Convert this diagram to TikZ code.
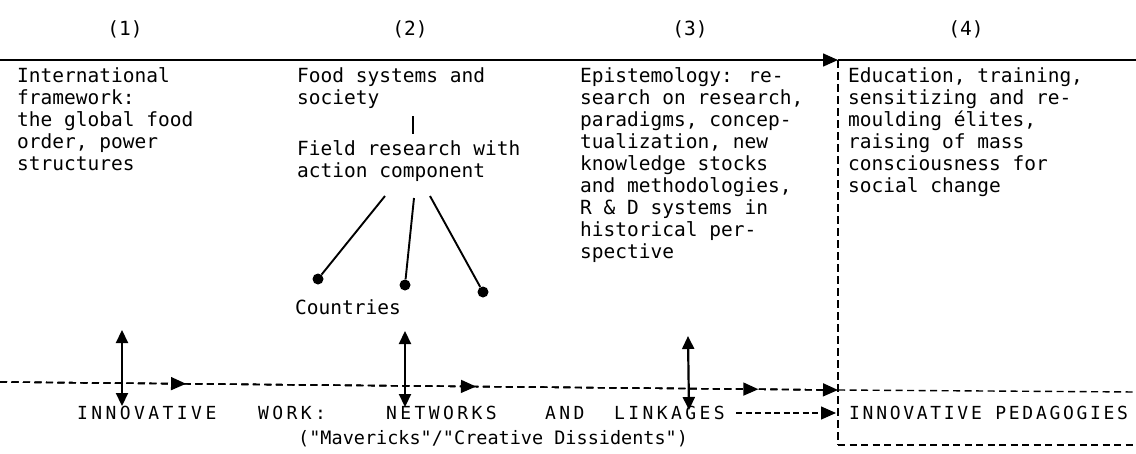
\documentclass[tikz,border=0pt]{standalone}
\usepackage{fontspec}
\newfontfamily\tw{DejaVu Sans Mono}
\newfontfamily\twcaps{DejaVu Sans Mono}[LetterSpace=19]
\newfontfamily\twcapsn{DejaVu Sans Mono}[LetterSpace=15]
\usetikzlibrary{arrows.meta,decorations.markings}

\begin{document}
\begin{tikzpicture}[x=1pt,y=-1pt,
  body/.style={anchor=north west, inner sep=0pt, align=left,
               font=\tw\fontsize{19.5}{22}\selectfont},
  head/.style={anchor=base, inner sep=0pt, font=\tw\fontsize{19.5}{22}\selectfont},
  caps/.style={anchor=base west, inner sep=0pt, font=\twcaps\fontsize{18}{22}\selectfont},
  solidline/.style={line width=1.5pt},
  dashline/.style={line width=1.4pt, dash pattern=on 7pt off 4.5pt},
  tip/.style={-{Triangle[length=15pt,width=13pt]}},
  twoway/.style={line width=2.2pt, {Triangle[length=13pt,width=12pt]}-{Triangle[length=13pt,width=12pt]}},
  stem/.style={line width=1.9pt},
  dot/.style={circle, fill, inner sep=0pt, minimum size=11pt},
  flow/.style={postaction={decorate}, decoration={markings,
      mark=at position #1 with {\arrow{Triangle[length=15pt,width=13pt]}}}}
]
\useasboundingbox (0,0) rectangle (1136,453);

% column numbers
\node[head] (n1) at (125,35) {(1)};
\node[head] (n2) at (410,35) {(2)};
\node[head] (n3) at (690,35) {(3)};
\node[head] (n4) at (966,35) {(4)};

% top rule with the arrow into column (4)
\coordinate (tl) at (0,60);
\coordinate (tm) at (838,60);
\coordinate (tr) at (1136,60);
\draw[solidline, tip] (tl) -- (tm);
\draw[solidline] (tm) -- (tr);

% dashed frame of column (4)
\coordinate (vb) at (838,445);
\coordinate (br) at (1136,445);
\draw[dashline, dash pattern=on 8pt off 4pt] (tm) -- (vb);
\draw[dashline] (vb) -- (br);

% column texts
\node[body] (c1) at (17,66.6) {\strut International\\framework:\\the global food\\order, power\\structures};
\node[body] (c2a) at (297,66.6) {\strut Food systems and\\society};
\node[body] (c2b) at (297,139.6) {\strut Field research with\\action component};
\node[body] (c3) at (580,66.6) {\strut Epistemology: re-\\search on research,\\paradigms, concep-\\tualization, new\\knowledge stocks\\and methodologies,\\R \& D systems in\\historical per-\\spective};
\node[body] (c4) at (848,66.6) {\strut Education, training,\\sensitizing and re-\\moulding élites,\\raising of mass\\consciousness for\\social change};

% link between the two parts of column (2)
\coordinate (b1) at (413,116);
\coordinate (b2) at (413,134);
\draw[stem] (b1) -- (b2);

% field research branching out to the countries
\coordinate (s1) at (385,196);
\coordinate (s2) at (414,198);
\coordinate (s3) at (430,196);
\node[dot] (d1) at (318,279) {};
\node[dot] (d2) at (405,285) {};
\node[dot] (d3) at (483,292) {};
\draw[stem] (s1) -- (d1);
\draw[stem] (s2) -- (d2);
\draw[stem] (s3) -- (d3);
\node[body] (ctry) at (295,298.6) {\strut Countries};

% dashed line of innovative work
\coordinate (m0) at (0,382);
\coordinate (m1) at (838,390);
\coordinate (m2) at (1136,392);
\draw[dashline, flow=0.222] (m0) -- (m1);
\draw[dashline, flow=0.568] (m0) -- (m1);
\draw[dashline, flow=0.905] (m0) -- (m1);
\draw[dashline, tip] (m0) -- (m1);
\draw[dashline] (m1) -- (m2);

% two-way links between the columns and the networks
\coordinate (u1) at (122,330);
\coordinate (l1) at (122,406);
\coordinate (u2) at (405,331);
\coordinate (l2) at (405,407);
\coordinate (u3) at (688,336);
\coordinate (l3) at (689,410);
\draw[twoway] (u1) -- (l1);
\draw[twoway] (u2) -- (l2);
\draw[twoway] (u3) -- (l3);

% bottom labels
\node[caps] (w1) at (77,419) {INNOVATIVE};
\node[caps] (w2) at (258,419) {WORK:};
\node[caps] (w3) at (386,419) {NETWORKS};
\node[caps] (w4) at (545,419) {AND};
\node[caps] (w5) at (614,419) {LINKAGES};
\coordinate (pa) at (736,413);
\coordinate (pb) at (836,413);
\draw[line width=1.3pt, dash pattern=on 6pt off 3.5pt, tip] (pa) -- (pb);
\node[caps, font=\twcapsn\fontsize{18}{22}\selectfont] (ped) at (849,419) {INNOVATIVE PEDAGOGIES};
\node[anchor=base west, inner sep=0pt, font=\tw\fontsize{18.5}{22}\selectfont] (mav) at (298,444)
  {(\symbol{34}Mavericks\symbol{34}/\symbol{34}Creative Dissidents\symbol{34})};
\end{tikzpicture}
\end{document}
